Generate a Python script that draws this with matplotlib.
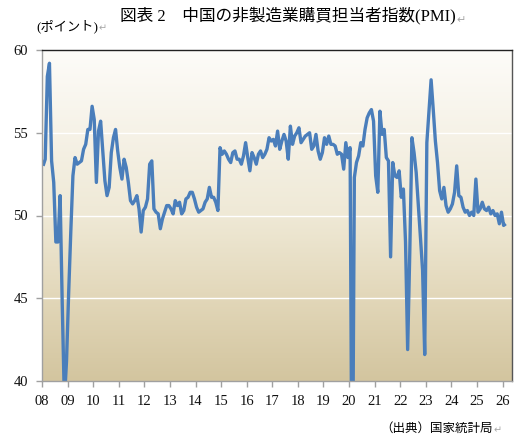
import matplotlib
matplotlib.use('Agg')
import matplotlib.pyplot as plt
import numpy as np
from matplotlib.colors import LinearSegmentedColormap

# 月次データ (2008年1月～2026年2月)
pmi_2008 = [53.0, 53.4, 58.4, 59.2, 53.3, 52.0, 48.4, 48.4, 51.2, 44.6, 38.8, 41.2]
pmi_2009 = [45.3, 49.0, 52.4, 53.5, 53.1, 53.2, 53.3, 54.0, 54.3, 55.2, 55.2, 56.6]
pmi_2010 = [55.8, 52.0, 55.1, 55.7, 53.9, 52.1, 51.2, 51.7, 53.8, 54.7, 55.2, 53.9]
pmi_2011 = [52.9, 52.2, 53.4, 52.9, 52.0, 50.9, 50.7, 50.9, 51.2, 50.4, 49.0, 50.3]
pmi_2012 = [50.5, 51.0, 53.1, 53.3, 50.4, 50.2, 50.1, 49.2, 49.8, 50.2, 50.6, 50.6]
pmi_2013 = [50.4, 50.1, 50.9, 50.6, 50.8, 50.1, 50.3, 51.0, 51.1, 51.4, 51.4, 51.0]
pmi_2014 = [50.5, 50.2, 50.3, 50.4, 50.8, 51.0, 51.7, 51.1, 51.1, 50.8, 50.3, 54.1]
pmi_2015 = [53.7, 53.9, 53.7, 53.4, 53.2, 53.8, 53.9, 53.4, 53.4, 53.1, 53.6, 54.4]
pmi_2016 = [53.5, 52.7, 53.8, 53.5, 53.1, 53.7, 53.9, 53.5, 53.7, 54.0, 54.7, 54.5]
pmi_2017 = [54.6, 54.2, 55.1, 54.0, 54.5, 54.9, 54.5, 53.4, 55.4, 54.3, 54.8, 55.0]
pmi_2018 = [55.3, 54.4, 54.6, 54.8, 54.9, 55.0, 54.0, 54.2, 54.9, 53.9, 53.4, 53.8]
pmi_2019 = [54.7, 54.3, 54.8, 54.3, 54.3, 54.2, 53.7, 53.8, 53.7, 52.8, 54.4, 53.5]
pmi_2020 = [54.1, 29.6, 52.3, 53.2, 53.6, 54.4, 54.2, 55.2, 55.9, 56.2, 56.4, 55.7]
pmi_2021 = [52.4, 51.4, 56.3, 54.9, 55.2, 53.5, 53.3, 47.5, 53.2, 52.4, 52.3, 52.7]
pmi_2022 = [51.1, 51.6, 48.4, 41.9, 47.8, 54.7, 53.8, 52.6, 50.6, 48.7, 46.7, 41.6]
pmi_2023 = [54.4, 56.3, 58.2, 56.4, 54.5, 53.2, 51.5, 51.0, 51.7, 50.6, 50.2, 50.4]
pmi_2024 = [50.7, 51.4, 53.0, 51.2, 51.1, 50.5, 50.2, 50.3, 50.0, 50.2, 50.0, 52.2]
pmi_2025 = [50.2, 50.4, 50.8, 50.4, 50.3, 50.5, 50.1, 50.3, 50.0, 50.1, 49.5, 50.2]
pmi_2026 = [49.4, 49.5]

years = list(range(2008, 2027))
year_labels = ['%02d' % (y % 100) for y in years]

values = (pmi_2008 + pmi_2009 + pmi_2010 + pmi_2011 + pmi_2012 + pmi_2013
          + pmi_2014 + pmi_2015 + pmi_2016 + pmi_2017 + pmi_2018 + pmi_2019
          + pmi_2020 + pmi_2021 + pmi_2022 + pmi_2023 + pmi_2024 + pmi_2025
          + pmi_2026)
# 月の中央に配置
xs = 2008 + (np.arange(len(values)) + 0.5) / 12.0

W, H = 524, 445
fig = plt.figure(figsize=(W / 100, H / 100), dpi=100)
ax = fig.add_axes([42 / W, 1 - 381 / H, (512 - 42) / W, (381 - 50) / H])

# 背景グラデーション
bg = LinearSegmentedColormap.from_list('bg', [
    (0.0, '#d3c59f'), (0.25, '#e2d7b9'), (0.5, '#efe9d6'),
    (0.75, '#f6f2e7'), (1.0, '#fdfcf9')])
grad = np.linspace(0, 1, 256).reshape(-1, 1)
ax.imshow(grad, extent=[0, 1, 0, 1], transform=ax.transAxes, origin='lower',
          aspect='auto', cmap=bg, zorder=0)

for g in [45, 50, 55]:
    ax.axhline(g, color='white', lw=1.0, zorder=1)

ax.plot(xs, values, color='#4a7ebb', lw=2.4, zorder=3,
        solid_joinstyle='round', solid_capstyle='butt')

ax.set_xlim(2008, 2026.37)
ax.set_ylim(40, 60)
ax.set_xticks(years)
ax.set_xticklabels(year_labels)
ax.set_yticks([40, 45, 50, 55, 60])

for s in ['left', 'bottom']:
    ax.spines[s].set_color('#a0a0a0')
ax.spines['top'].set_color('#222222')
ax.spines['right'].set_color('#555555')
for s in ax.spines.values():
    s.set_linewidth(1.0)
    s.set_zorder(4)

ax.tick_params(direction='out', length=4, width=1, color='#a0a0a0',
               labelsize=10.5, labelcolor='#111111')
ax.tick_params(axis='x', pad=6)
ax.tick_params(axis='y', pad=6)
for lab in ax.get_xticklabels() + ax.get_yticklabels():
    lab.set_family('Liberation Serif')

fam = ['Liberation Serif', 'Noto Sans CJK JP', 'DejaVu Sans']
mark = dict(color='#a8a8a8', family='DejaVu Sans', annotation_clip=False,
            textcoords='offset points', ha='left', va='bottom')

t1 = fig.text(288 / W, 1 - 16 / H, '図表 2　中国の非製造業購買担当者指数(PMI)',
              ha='center', va='center', fontsize=12, family=fam)
ax.annotate('↵', xy=(1, 0), xycoords=t1, xytext=(0.5, 0), fontsize=8, **mark)

t2 = fig.text(36 / W, 1 - 26 / H, '(ポイント)', ha='left', va='center',
              fontsize=9.5, family=fam)
ax.annotate('↵', xy=(1, 0), xycoords=t2, xytext=(0.5, 0), fontsize=7, **mark)

t3 = fig.text(380 / W, 1 - 429 / H, '（出典）国家統計局', ha='left', va='center',
              fontsize=9, family=fam)
ax.annotate('↵', xy=(1, 0), xycoords=t3, xytext=(0.5, 0), fontsize=7, **mark)

fig.savefig('out.png', dpi=100)
